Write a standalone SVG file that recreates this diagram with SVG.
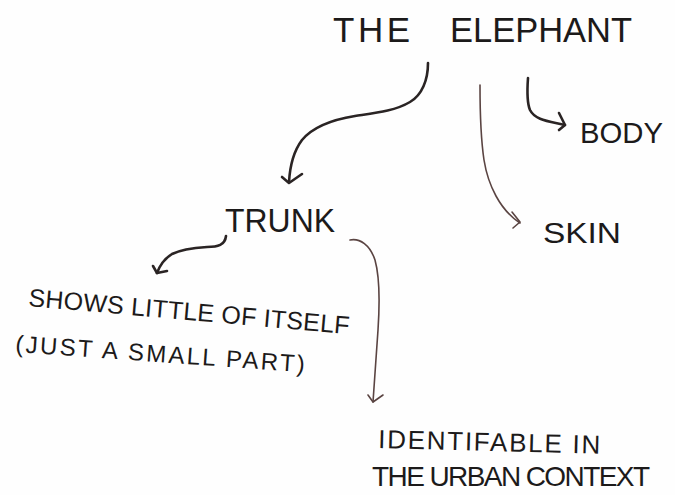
<svg xmlns="http://www.w3.org/2000/svg" width="675" height="495" viewBox="0 0 675 495">
<style>
.t{font-family:"Liberation Sans","DejaVu Sans",sans-serif;fill:#1c1a1a;}
.c{fill:none;stroke-linecap:round;stroke-linejoin:round;}
.dark{stroke:#2a2424;stroke-width:2.6;}
.thin{stroke:#5a4442;stroke-width:1.6;}
</style>
<rect width="675" height="495" fill="#fefefe"/>
<g id="connectors">
  <path class="c dark" d="M428,63 C428,80 422,95 410,102 C395,111 375,113 355,116 C330,120 312,128 302,140 C293,152 290,165 289,182"/>
  <path class="c dark" d="M282,177 L289,183 L302,174"/>
  <path class="c thin" d="M480,85 C480,110 481,140 484,160 C488,185 500,210 520,223"/>
  <path class="c thin" d="M512,212 L520,222 L513,228"/>
  <path class="c dark" d="M528,78 C527,92 527,103 530,110 C535,120 548,121 565,125"/>
  <path class="c dark" d="M559,113 L565,125 L559,130"/>
  <path class="c dark" d="M226,236 C225,245 218,247 207,247 C192,248 180,250 172,254 C164,259 160,265 157,273"/>
  <path class="c dark" d="M153,266 L157,273 L167,271"/>
  <path class="c thin" d="M350,240 C360,238 370,245 375,260 C380,278 380,300 378,330 C376,360 374,385 373,402"/>
  <path class="c thin" d="M368,395 L373,402 L383,395"/>
</g>
<g id="elephant"><text class="t" y="42" font-size="35"><tspan x="333" textLength="77" lengthAdjust="spacing">THE</tspan> <tspan x="450" textLength="182" lengthAdjust="spacingAndGlyphs">ELEPHANT</tspan></text></g>
<g id="body"><text class="t" x="580" y="143" font-size="30" textLength="83" lengthAdjust="spacingAndGlyphs">BODY</text></g>
<g id="skin"><text class="t" x="543" y="243" font-size="30" textLength="78" lengthAdjust="spacingAndGlyphs">SKIN</text></g>
<g id="trunk"><text class="t" x="225" y="232" font-size="33" textLength="110" lengthAdjust="spacingAndGlyphs">TRUNK</text></g>
<g id="shows">
  <text class="t" x="28" y="306" font-size="25" transform="rotate(5 28 306)" textLength="322" lengthAdjust="spacing">SHOWS LITTLE OF ITSELF</text>
  <text class="t" x="15" y="352" font-size="24" transform="rotate(4 15 352)" textLength="290" lengthAdjust="spacing">(JUST A SMALL PART)</text>
</g>
<g id="identifiable">
  <text class="t" x="378" y="448" font-size="26" transform="rotate(1.5 378 448)" textLength="222" lengthAdjust="spacing">IDENTIFABLE IN</text>
  <text class="t" x="372" y="486" font-size="28" textLength="278" lengthAdjust="spacing">THE URBAN CONTEXT</text>
</g>
</svg>
